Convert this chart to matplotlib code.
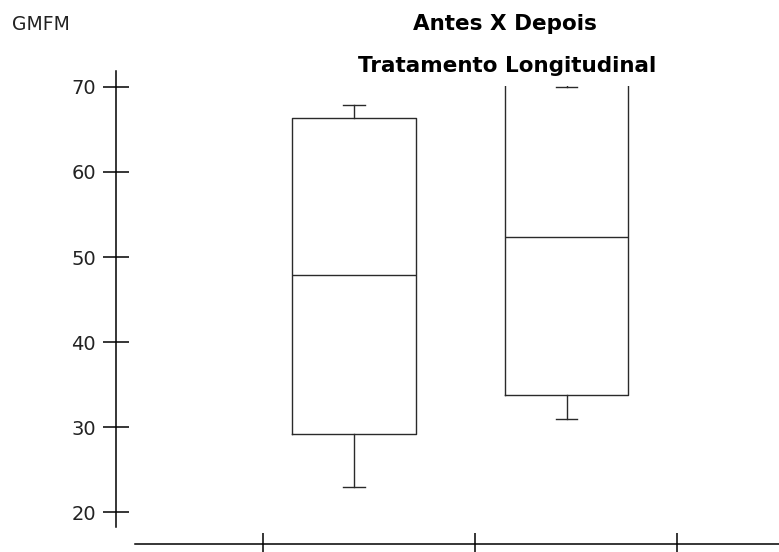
import matplotlib
matplotlib.use("Agg")
import matplotlib.pyplot as plt
from matplotlib.patches import Rectangle

# GMFM scores, before vs after treatment
positions = [1, 2]
whisker_lo = [23.0, 31.0]
q1 = [29.2, 33.8]
medians = [47.9, 52.4]
q3 = [66.4, 75.0]
whisker_hi = [67.9, 70.0]

y_ticks = [20, 30, 40, 50, 60, 70]
x_ticks = [0.57, 1.57, 2.52]

title_1 = "Antes X Depois"
title_2 = "Tratamento Longitudinal"
y_title = "GMFM"

plt.rcParams['font.family'] = ['DejaVu Sans']

fig = plt.figure(figsize=(7.79, 5.52), dpi=100)
W, H = 779, 552
ax = fig.add_axes([135 / W, 8 / H, 644 / W, 473 / H])

stats = []
for i in range(len(positions)):
    stats.append({
        'whislo': whisker_lo[i], 'q1': q1[i], 'med': medians[i],
        'q3': q3[i], 'whishi': whisker_hi[i], 'fliers': [],
    })

line = dict(color='#2a2a2a', linewidth=1.0)
parts = ax.bxp(stats, positions=positions, widths=0.58, capwidths=0.1,
               showfliers=False, boxprops=line, medianprops=line,
               whiskerprops=line, capprops=line)

# everything above 70 is cut off at the top of the scale
clip = Rectangle((-5, -100), 20, 170.07, transform=ax.transData)
for key in ('boxes', 'medians', 'whiskers', 'caps'):
    for artist in parts[key]:
        artist.set_clip_path(clip)

ax.set_xlim(-0.0306, 3.0)
ax.set_ylim(16.24, 71.88)

for side in ('top', 'right'):
    ax.spines[side].set_visible(False)
ax.spines['left'].set_position(('outward', 19 / 1.389))
ax.spines['left'].set_bounds(18.2, 71.88)
for side in ('left', 'bottom'):
    ax.spines[side].set_linewidth(1.1)
    ax.spines[side].set_color('black')

ax.set_yticks(y_ticks)
ax.set_yticklabels([str(v) for v in y_ticks])
ax.set_xticks(x_ticks)
ax.set_xticklabels([])
ax.tick_params(axis='y', direction='inout', length=19, width=1.1,
               pad=5, labelsize=14, colors='black')
ax.tick_params(axis='x', direction='inout', length=16, width=1.1)
for lbl in ax.get_yticklabels():
    lbl.set_color('#222222')

fig.text(504.5 / W, 1 - 30 / H, title_1, ha='center', va='baseline',
         fontsize=15.5, fontweight='bold', color='black')
fig.text(507.5 / W, 1 - 71.5 / H, title_2, ha='center', va='baseline',
         fontsize=15.5, fontweight='bold', color='black')
fig.text(12 / W, 1 - 30 / H, y_title, ha='left', va='baseline',
         fontsize=13.5, color='#222222')

fig.savefig("out.png", dpi=100)
